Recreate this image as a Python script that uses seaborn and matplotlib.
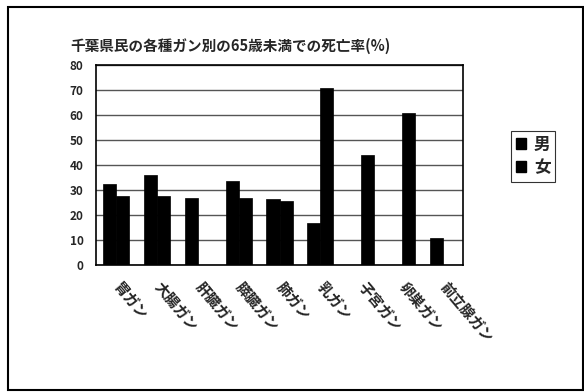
import matplotlib
matplotlib.use("Agg")
import matplotlib.pyplot as plt
import seaborn as sns
import pandas as pd
import numpy as np
from matplotlib.patches import Rectangle, Patch

categories = ["胃ガン", "大腸ガン", "肝臓ガン", "膵臓ガン", "肺ガン", "乳ガン", "子宮ガン", "卵巣ガン", "前立腺ガン"]
male = [32.5, 36, 27, 33.7, 26.3, 16.8, np.nan, np.nan, 10.7]
female = [27.6, 27.6, np.nan, 26.8, 25.7, 71, 44, 61, np.nan]
series = ["男", "女"]
title = "千葉県民の各種ガン別の65歳未満での死亡率(%)"
yticks = [0, 10, 20, 30, 40, 50, 60, 70, 80]

sns.set_style("white")
plt.rcParams['font.family'] = ['Noto Sans CJK JP', 'DejaVu Sans']

df = pd.DataFrame({
    "cat": categories * 2,
    "sex": [series[0]] * len(categories) + [series[1]] * len(categories),
    "val": male + female,
})

fig = plt.figure(figsize=(5.84, 3.92), dpi=100)
ax = fig.add_axes([96/584, 1 - 265/392, (463-96)/584, (265-65)/392])

sns.barplot(data=df, x="cat", y="val", hue="sex", hue_order=series, order=categories,
            palette=["black", "black"], width=0.64, ax=ax, legend=False,
            edgecolor="black", linewidth=0.5)

ax.set_ylim(0, 80)
ax.set_xlim(-0.5, len(categories) - 0.5)
ax.set_yticks(yticks)
ax.set_yticklabels([str(t) for t in yticks], fontsize=8.5, fontweight="bold")
ax.yaxis.grid(True, color="#555555", linewidth=1)
ax.set_axisbelow(True)
ax.set_xlabel("")
ax.set_ylabel("")
ax.tick_params(axis="x", length=0, pad=14)
ax.tick_params(axis="y", length=0, pad=9)
for s in ax.spines.values():
    s.set_color("black")
    s.set_linewidth(1.2)
    s.set_visible(True)

ax.set_xticks(range(len(categories)))
ax.set_xticklabels(categories, rotation=-50, ha="left", va="center",
                   rotation_mode="anchor", fontsize=10.5, fontweight="bold")

fig.text(230/584, 1 - 46/392, title, ha="center", va="center",
         fontsize=10.5, fontweight="bold")

# legend
handles = [Patch(facecolor="black", edgecolor="black") for _ in series]
leg = fig.legend(handles, series, loc="center", bbox_to_anchor=(533/584, 1 - 156/392),
                 frameon=True, fancybox=False, edgecolor="black",
                 prop={"weight": "bold", "size": 12}, handlelength=0.6, handleheight=0.6,
                 handletextpad=0.5, borderpad=0.3, labelspacing=0.3)
leg.get_frame().set_linewidth(0.8)

# outer border
fig.patches.append(Rectangle((8/584, 2/392), 575/584, 383/392, transform=fig.transFigure,
                             fill=False, edgecolor="black", linewidth=1.5))

fig.savefig("out.png", dpi=100)
